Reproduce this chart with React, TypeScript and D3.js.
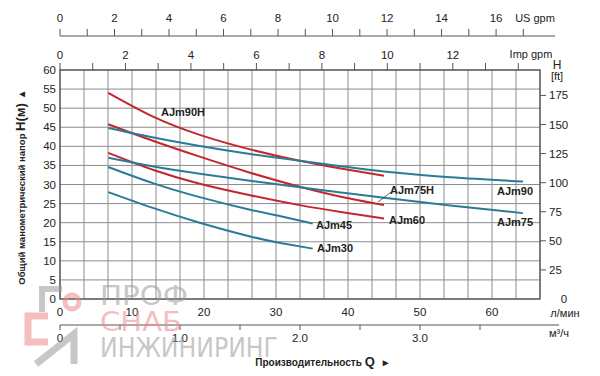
import React from "react";
import * as d3 from "d3";

// Flow in l/min, head in m
const flowShort = [6.7, 13, 19.4, 26.4, 33.3, 39, 45];
const flowLong = [6.7, 13, 19.4, 26.4, 33.3, 39, 45, 54.2, 64.3];
const flowSmall = [6.7, 13, 19.4, 26.4, 30.8, 35.1];

const headAJm90H = [54.0, 47.7, 43.0, 39.2, 36.2, 34.2, 32.3];
const headAJm75H = [45.8, 41.4, 37.3, 33.1, 29.4, 26.8, 24.6];
const headAJm60 = [38.3, 33.8, 30.2, 27.2, 24.6, 22.8, 21.1];
const headAJm90 = [44.8, 42.3, 40.1, 38.0, 36.2, 34.8, 33.4, 31.9, 30.8];
const headAJm75 = [37.0, 34.7, 32.8, 31.0, 29.3, 27.9, 26.5, 24.5, 22.5];
const headAJm45 = [34.6, 30.3, 26.7, 23.4, 21.6, 19.8];
const headAJm30 = [28.0, 23.8, 20.0, 16.4, 14.6, 13.2];

const seriesNames = ["AJm90H", "AJm75H", "AJm60", "AJm90", "AJm75", "AJm45", "AJm30"];

const headTicks = [0, 5, 10, 15, 20, 25, 30, 35, 40, 45, 50, 55, 60];
const ftTicks = [25, 50, 75, 100, 125, 150, 175];
const lminTicks = [0, 10, 20, 30, 40, 50, 60];
const m3Labels = [0, 1, 2, 3];
const m3Ticks = [0, 0.5, 1, 1.5, 2, 2.5, 3, 3.5];
const usTicks = d3.range(0, 18);
const impTicks = d3.range(0, 15);

const RED = "#c3272e";
const BLUE = "#2b7b98";
const FONT = "'Liberation Sans', Arial, sans-serif";

export default function App() {
  const L = 60, R = 540, T = 70, B = 299;
  const x = d3.scaleLinear().domain([0, 200 / 3]).range([L, R]);
  const y = d3.scaleLinear().domain([0, 60]).range([B, T]);
  const yFt = d3.scaleLinear().domain([0, 60 / 0.3048]).range([B, T]);
  const xUS = (g: number) => x(g * 3.78541);
  const xImp = (g: number) => x(g * 4.54609);
  const xM3 = (m: number) => x((m * 1000) / 60);

  const line = d3
    .line<[number, number]>()
    .x((d) => x(d[0]))
    .y((d) => y(d[1]))
    .curve(d3.curveNatural);

  const series = [
    { name: seriesNames[0], f: flowShort, h: headAJm90H, c: RED },
    { name: seriesNames[1], f: flowShort, h: headAJm75H, c: RED },
    { name: seriesNames[2], f: flowShort, h: headAJm60, c: RED },
    { name: seriesNames[3], f: flowLong, h: headAJm90, c: BLUE },
    { name: seriesNames[4], f: flowLong, h: headAJm75, c: BLUE },
    { name: seriesNames[5], f: flowSmall, h: headAJm45, c: BLUE },
    { name: seriesNames[6], f: flowSmall, h: headAJm30, c: BLUE },
  ];

  const labels: { name: string; x: number; y: number }[] = [
    { name: "AJm90H", x: 161, y: 116 },
    { name: "AJm90", x: 497, y: 195 },
    { name: "AJm75", x: 497, y: 226 },
    { name: "AJm75H", x: 390, y: 194 },
    { name: "AJm60", x: 389, y: 224 },
    { name: "AJm45", x: 316, y: 229 },
    { name: "AJm30", x: 317, y: 252 },
  ];

  const vGrid = d3.range(0, 4.01, 0.2).map((m) => xM3(m));
  const gridCol = "#8c8c8c";

  return (
    <svg
      width={600}
      height={376}
      style={{ position: "absolute", left: 0, top: 0, background: "#fff" }}
      fontFamily={FONT}
    >
      <rect x={0} y={0} width={600} height={376} fill="#fff" />

      {/* grid */}
      {vGrid.map((gx, i) => (
        <line key={"vg" + i} x1={gx} x2={gx} y1={T} y2={B} stroke={gridCol} strokeWidth={1} />
      ))}
      {headTicks.map((h) => (
        <line key={"hg" + h} x1={L} x2={R} y1={y(h)} y2={y(h)} stroke={gridCol} strokeWidth={1} />
      ))}
      <rect x={L} y={T} width={R - L} height={B - T} fill="none" stroke="#555" strokeWidth={1.3} />

      {/* left axis labels */}
      {headTicks.map((h) => (
        <text key={"hl" + h} x={56} y={y(h) + 4} fontSize={11.5} textAnchor="end" fill="#222">
          {h}
        </text>
      ))}

      {/* right ft axis */}
      {ftTicks.map((f) => (
        <g key={"ft" + f}>
          <line x1={R} x2={R + 6} y1={yFt(f)} y2={yFt(f)} stroke="#555" strokeWidth={1} />
          <text x={549} y={yFt(f) + 4} fontSize={11.5} fill="#222">
            {f}
          </text>
        </g>
      ))}
      <text x={564} y={303} fontSize={11.5} textAnchor="middle" fill="#222">0</text>
      <text x={557} y={69} fontSize={12} textAnchor="middle" fill="#222">H</text>
      <text x={557} y={80} fontSize={11} textAnchor="middle" fill="#222">[ft]</text>

      {/* bottom l/min labels */}
      {lminTicks.map((q) => (
        <text key={"lm" + q} x={x(q)} y={316} fontSize={11.5} textAnchor="middle" fill="#222">
          {q}
        </text>
      ))}
      <text x={565} y={317} fontSize={11} textAnchor="middle" fill="#222">л/мин</text>

      {/* m3/h axis */}
      <line x1={xM3(0)} x2={559} y1={325} y2={325} stroke="#555" strokeWidth={1} />
      {m3Ticks.map((m) => (
        <line key={"m3t" + m} x1={xM3(m)} x2={xM3(m)} y1={325} y2={330} stroke="#555" strokeWidth={1} />
      ))}
      {m3Labels.map((m) => (
        <text key={"m3l" + m} x={xM3(m)} y={342} fontSize={11.5} textAnchor="middle" fill="#222">
          {m === 0 ? "0" : m.toFixed(1)}
        </text>
      ))}
      <text x={559} y={337} fontSize={11} textAnchor="middle" fill="#222">м³/ч</text>

      {/* top Imp gpm axis */}
      {impTicks.map((g) => (
        <line key={"it" + g} x1={xImp(g)} x2={xImp(g)} y1={T} y2={T - 7} stroke="#555" strokeWidth={1} />
      ))}
      {impTicks.filter((g) => g % 2 === 0 && g <= 12).map((g) => (
        <text key={"il" + g} x={xImp(g)} y={59} fontSize={11.5} textAnchor="middle" fill="#222">
          {g}
        </text>
      ))}
      <text x={531} y={58} fontSize={11} textAnchor="middle" fill="#222">Imp gpm</text>

      {/* top US gpm axis */}
      <line x1={L} x2={555} y1={36} y2={36} stroke="#555" strokeWidth={1} />
      {usTicks.map((g) => (
        <line key={"ut" + g} x1={xUS(g)} x2={xUS(g)} y1={36} y2={29} stroke="#555" strokeWidth={1} />
      ))}
      {usTicks.filter((g) => g % 2 === 0).map((g) => (
        <text key={"ul" + g} x={xUS(g)} y={22} fontSize={11.5} textAnchor="middle" fill="#222">
          {g}
        </text>
      ))}
      <text x={535} y={22} fontSize={11} textAnchor="middle" fill="#222">US gpm</text>

      {/* curves */}
      {series.map((s) => (
        <path
          key={s.name}
          d={line(s.f.map((f, i) => [f, s.h[i]] as [number, number])) || ""}
          fill="none"
          stroke={s.c}
          strokeWidth={2}
        />
      ))}

      {/* curve labels */}
      <line x1={378} y1={202} x2={391} y2={192} stroke="#333" strokeWidth={0.8} />
      {labels.map((l) => (
        <text key={"lab" + l.name} x={l.x} y={l.y} fontSize={11} fontWeight="bold" fill="#222">
          {l.name}
        </text>
      ))}

      {/* axis titles */}
      <text
        transform="translate(25,187) rotate(-90)"
        textAnchor="middle"
        fontWeight="bold"
        fill="#222"
        fontSize={9.5}
      >
        Общий манометрический напор{" "}
        <tspan fontSize={13}>H(м)</tspan>
        <tspan fontSize={10} dx={4}>▲</tspan>
      </text>
      <text x={323} y={366} textAnchor="middle" fontWeight="bold" fill="#222" fontSize={10}>
        Производительность <tspan fontSize={13}>Q</tspan>
        <tspan dx={6} fontSize={10}>►</tspan>
      </text>

      {/* watermark */}
      <g opacity={0.55}>
        <path d="M62 289 L42 289 L42 312" fill="none" stroke="#9a9a9a" strokeWidth={6} />
        <path d="M48 316 L28 316 L28 342 L48 342" fill="none" stroke="#ee8a8a" strokeWidth={7} />
        <circle cx={72} cy={302} r={7} fill="none" stroke="#ee8a8a" strokeWidth={5} />
        <path d="M36 364 L74 334 L74 364" fill="none" stroke="#9a9a9a" strokeWidth={7} />
        <text x={100} y={305} fontSize={27} fill="#9a9a9a" textLength={88} lengthAdjust="spacingAndGlyphs" fontFamily="'DejaVu Sans', sans-serif">ПРОФ</text>
        <text x={100} y={331} fontSize={27} fill="#ee8a8a" textLength={82} lengthAdjust="spacingAndGlyphs" fontFamily="'DejaVu Sans', sans-serif">СНАБ</text>
        <text x={100} y={357} fontSize={27} fill="#9a9a9a" textLength={178} lengthAdjust="spacingAndGlyphs" fontFamily="'DejaVu Sans', sans-serif">ИНЖИНИРИНГ</text>
      </g>
    </svg>
  );
}
